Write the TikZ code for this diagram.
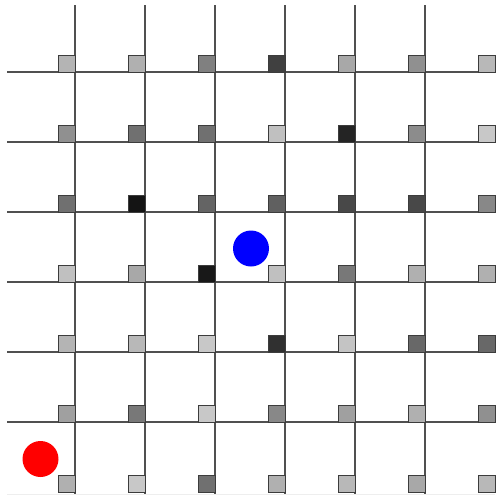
\documentclass[tikz,border=0pt]{standalone}
\begin{document}
\begin{tikzpicture}[x=1pt,y=-1pt,
  gridline/.style={draw={rgb,255:red,80;green,80;blue,80}, line width=1.2pt},
  faintline/.style={draw={rgb,255:red,238;green,238;blue,238}, line width=0.8pt},
  tile/.style={draw={rgb,255:red,60;green,60;blue,60}, line width=0.9pt, minimum size=16.5pt, inner sep=0pt, outer sep=0pt, anchor=south east},
  agent/.style={circle, minimum size=36pt, inner sep=0pt, draw=none}]
\useasboundingbox (0,0) rectangle (496,499);
\fill[white] (0,0) rectangle (496,499);
\draw[faintline] (7,494) -- (495,494);
\foreach \i in {0,...,5} {
  \draw[gridline] (75+70*\i,5) -- (75+70*\i,494);
  \draw[gridline] (7,72+70*\i) -- (495,72+70*\i);
}
\foreach \row [count=\r from 0] in {
  {180,176,128,64,168,144,184},
  {144,112,112,192,36,140,200},
  {112,20,100,96,72,72,136},
  {192,168,24,192,120,176,176},
  {180,184,200,48,196,104,104},
  {160,120,200,136,160,176,144},
  {176,200,112,176,184,168,184}} {
  \foreach \g [count=\c from 0] in \row {
    \node[tile, fill={rgb,255:red,\g;green,\g;blue,\g}] (t\r\c) at (75+70*\c, 72+70*\r) {};
  }
}
\node[agent, fill=red] (redagent) at (40.5,459) {};
\node[agent, fill=blue] (blueagent) at (251,248.5) {};
\end{tikzpicture}
\end{document}
